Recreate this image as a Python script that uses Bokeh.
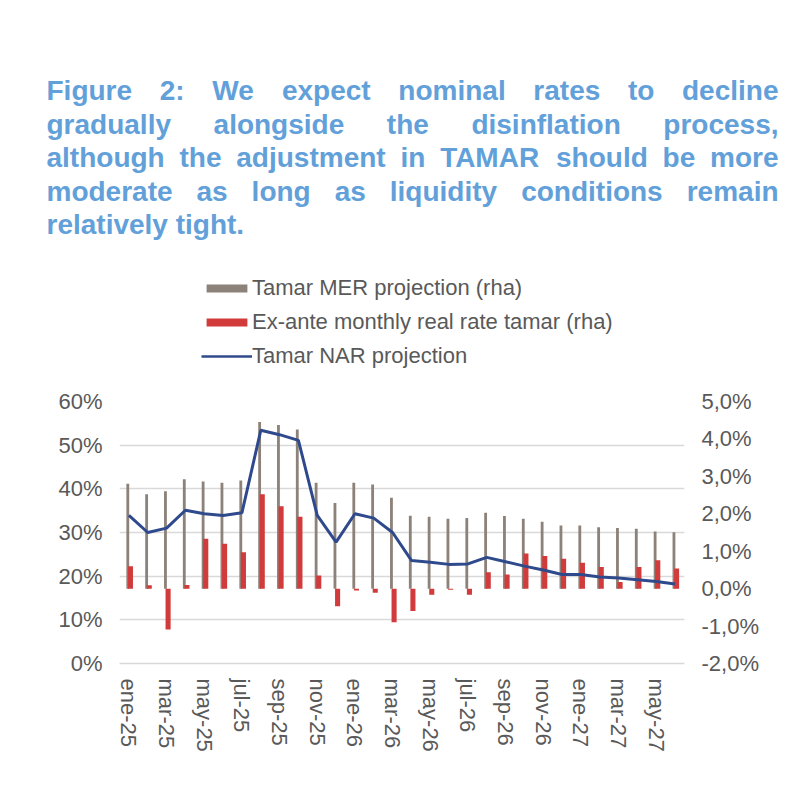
import numpy as np
from bokeh.plotting import figure
from bokeh.models import (Range1d, LinearAxis, FixedTicker, CustomJSTickFormatter,
                          PrintfTickFormatter, ColumnDataSource, Legend, LegendItem)
from bokeh.layouts import column
from bokeh.core.properties import value
from bokeh.embed import file_html
from bokeh.resources import INLINE

# ---------------- data ----------------
months = ["ene-25", "feb-25", "mar-25", "abr-25", "may-25", "jun-25", "jul-25", "ago-25",
          "sep-25", "oct-25", "nov-25", "dic-25", "ene-26", "feb-26", "mar-26", "abr-26",
          "may-26", "jun-26", "jul-26", "ago-26", "sep-26", "oct-26", "nov-26", "dic-26",
          "ene-27", "feb-27", "mar-27", "abr-27", "may-27", "jun-27"]
# Tamar MER projection (rha), %
mer = [2.80, 2.52, 2.60, 2.92, 2.86, 2.83, 2.89, 4.45, 4.37, 4.25, 2.83, 2.29, 2.83, 2.78,
       2.43, 1.95, 1.92, 1.87, 1.89, 2.03, 1.94, 1.87, 1.79, 1.69, 1.69, 1.64, 1.62, 1.60,
       1.53, 1.51]
# Ex-ante monthly real rate tamar (rha), %
real = [0.60, 0.09, -1.09, 0.10, 1.33, 1.20, 0.97, 2.52, 2.20, 1.92, 0.35, -0.47, -0.05,
        -0.11, -0.90, -0.60, -0.16, -0.03, -0.16, 0.44, 0.38, 0.94, 0.87, 0.80, 0.69, 0.58,
        0.18, 0.58, 0.76, 0.54]
# Tamar NAR projection (lha), %
nar = [33.9, 30.0, 31.0, 35.1, 34.3, 33.9, 34.5, 53.4, 52.4, 51.1, 33.9, 27.8, 34.3, 33.3,
       30.0, 23.6, 23.2, 22.7, 22.8, 24.3, 23.3, 22.3, 21.4, 20.4, 20.4, 19.8, 19.6, 19.2,
       18.8, 18.2]
left_ticks = [0, 10, 20, 30, 40, 50, 60]
right_ticks = [-2, -1, 0, 1, 2, 3, 4, 5]
label_every = 2

title_lines = [
    "Figure 2: We expect nominal rates to decline",
    "gradually alongside the disinflation process,",
    "although the adjustment in TAMAR should be more",
    "moderate as long as liquidity conditions remain",
    "relatively tight.",
]
legend_labels = ["Tamar MER projection (rha)",
                 "Ex-ante monthly real rate tamar (rha)",
                 "Tamar NAR projection"]

# ---------------- styles ----------------
FONT = "Liberation Sans"
TITLE_COLOR = "#62A0DA"
TEXT_COLOR = "#595959"
GRID_COLOR = "#D9D9D9"
GRAY = "#8C8279"
RED = "#D13B3B"
NAVY = "#2F4A8C"
TITLE_PX = 28
TICK_PX = "22px"
LEGEND_PX = "22px"

# Arial/Liberation Sans Bold advance widths (1/1000 em) used to justify the title
BOLD_W = {"a": 556, "b": 611, "c": 556, "d": 611, "e": 556, "f": 333, "g": 611, "h": 611,
          "i": 278, "j": 278, "k": 556, "l": 278, "m": 889, "n": 611, "o": 611, "p": 611,
          "q": 611, "r": 389, "s": 556, "t": 333, "u": 611, "v": 556, "w": 778, "x": 556,
          "y": 556, "z": 500, "F": 611, "W": 944, "T": 611, "A": 722, "M": 833, "R": 722,
          "2": 556, ":": 333, ",": 278, ".": 278}


def word_width(w):
    return sum(BOLD_W.get(c, 600) for c in w) * TITLE_PX / 1000.0


# ---------------- top figure: title + legend ----------------
W, HT, HC = 784, 372, 400
top = figure(width=W, height=HT, x_range=Range1d(0, W), y_range=Range1d(HT, 0),
             output_backend="svg", toolbar_location=None, frame_align=False,
             min_border_left=0, min_border_right=0, min_border_top=0, min_border_bottom=0)
top.axis.visible = False
top.grid.visible = False
top.outline_line_color = None

x_left, x_right = 46, 778
baselines = [90, 124, 157, 191, 224]
tx, ty, tt = [], [], []
for li, line in enumerate(title_lines):
    if li == len(title_lines) - 1:
        tx.append(x_left); ty.append(baselines[li]); tt.append(line)
        continue
    words = line.split(" ")
    widths = [word_width(w) for w in words]
    gap = (x_right - x_left - sum(widths)) / (len(words) - 1)
    xpos = x_left
    for w, wd in zip(words, widths):
        tx.append(xpos); ty.append(baselines[li]); tt.append(w)
        xpos += wd + gap
top.text(x=tx, y=ty, text=tt, text_align="left", text_baseline="alphabetic",
         text_font=value(FONT), text_font_style="bold", text_font_size=f"{TITLE_PX}px",
         text_color=TITLE_COLOR)

# legend swatch renderers (zero-size, carry the series' styles)
sw = ColumnDataSource(dict(x=[0], top=[0], y=[0]))
lr1 = top.vbar(x="x", top="top", width=0, source=sw, fill_color=GRAY, line_color=None)
lr2 = top.vbar(x="x", top="top", width=0, source=sw, fill_color=RED, line_color=None)
lr3 = top.line(x="x", y="y", source=sw, line_color=NAVY, line_width=2.5)
legend = Legend(items=[LegendItem(label=legend_labels[0], renderers=[lr1]),
                       LegendItem(label=legend_labels[1], renderers=[lr2]),
                       LegendItem(label=legend_labels[2], renderers=[lr3])],
                location=(201, 3), orientation="vertical",
                glyph_width=51, glyph_height=10, label_standoff=0, label_height=24,
                spacing=8, padding=0, margin=0, border_line_color=None,
                background_fill_alpha=0, label_text_font=FONT,
                label_text_font_size=LEGEND_PX, label_text_color=TEXT_COLOR)
top.add_layout(legend)

# ---------------- chart ----------------
idx = np.arange(len(months))
src = ColumnDataSource(dict(x=idx, xg=idx - 0.06, xr=idx + 0.08,
                            mer=mer, real=real, nar=nar))

p = figure(width=W, height=HC, x_range=Range1d(-0.5, len(months) - 0.5),
           y_range=Range1d(left_ticks[0], left_ticks[-1]),
           output_backend="svg", toolbar_location=None, frame_align=False,
           min_border_left=119, min_border_right=100, min_border_top=29,
           min_border_bottom=109)
p.extra_y_ranges = {"rha": Range1d(right_ticks[0], right_ticks[-1])}
p.outline_line_color = None
p.background_fill_color = "white"

p.vbar(x="xg", top="mer", bottom=0, width=0.15, source=src, y_range_name="rha",
       fill_color=GRAY, line_color=None)
p.vbar(x="xr", top="real", bottom=0, width=0.27, source=src, y_range_name="rha",
       fill_color=RED, line_color=None)
p.line(x="x", y="nar", source=src, line_color=NAVY, line_width=3)

# axes
xa = p.xaxis[0]
ticks_x = list(range(0, len(months), label_every))
xa.ticker = FixedTicker(ticks=ticks_x)
xa.major_label_overrides = {i: months[i] for i in ticks_x}
xa.major_label_orientation = "vertical"
xa.axis_line_color = GRID_COLOR
xa.axis_line_width = 1.5
xa.major_label_standoff = 15

ya = p.yaxis[0]
ya.ticker = FixedTicker(ticks=left_ticks)
ya.formatter = PrintfTickFormatter(format="%d%%")
ya.axis_line_color = None
ya.major_label_standoff = 17

ra = LinearAxis(y_range_name="rha", ticker=FixedTicker(ticks=right_ticks),
                formatter=CustomJSTickFormatter(
                    code="return tick.toFixed(1).replace('.', ',') + '%';"))
ra.axis_line_color = None
ra.major_label_standoff = 17
p.add_layout(ra, "right")

for ax in [xa, ya, ra]:
    ax.major_tick_line_color = None
    ax.minor_tick_line_color = None
    ax.major_tick_out = 0
    ax.major_tick_in = 0
    ax.minor_tick_out = 0
    ax.major_label_text_font = FONT
    ax.major_label_text_font_size = TICK_PX
    ax.major_label_text_color = TEXT_COLOR

p.xgrid.visible = False
p.ygrid.ticker = FixedTicker(ticks=left_ticks)
p.ygrid.grid_line_color = GRID_COLOR
p.ygrid.grid_line_width = 1.5

layout = column(top, p, spacing=0)
open("out.html", "w").write(file_html(layout, INLINE))
